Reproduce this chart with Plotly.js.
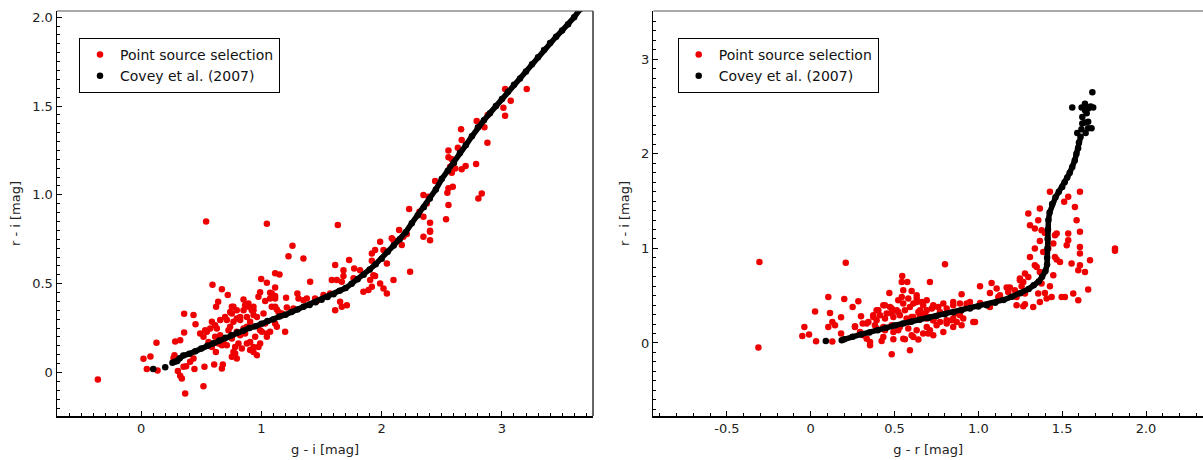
<!DOCTYPE html>
<html>
<head>
<meta charset="utf-8">
<script src="https://cdn.plot.ly/plotly-3.0.1.min.js"></script>
<style>html,body{margin:0;padding:0;background:#fff;}#chart{width:1203px;height:460px;}</style>
</head>
<body>
<div id="chart"></div>
<script>
// ---- Data ----
const seriesNames = ['Point source selection', 'Covey et al. (2007)'];

// Left panel: point sources, [g - i, r - i]
const pointsGI_RI = [
[0.54,0.85],[1.045,0.837],[1.635,0.83],[-0.36,-0.04],[1.258,0.713],[1.225,0.655],[1.349,0.642],[1.114,0.558],[1.15,0.552],[0.998,0.526],
[1.045,0.505],[0.593,0.494],[0.671,0.468],[0.72,0.436],[0.64,0.398],[0.623,0.37],[0.851,0.411],[0.892,0.389],[0.934,0.37],[0.975,0.426],
[0.989,0.452],[0.357,0.33],[0.435,0.323],[0.452,0.271],[0.127,0.167],[0.283,0.175],[0.324,0.182],[0.357,0.225],[0.019,0.077],[0.077,0.09],
[0.047,0.019],[0.136,0.011],[0.277,0.097],[0.305,0.009],[0.324,-0.019],[0.366,-0.118],[0.518,-0.077],[0.443,0.019],[0.526,0.032],[0.607,0.045],
[0.679,0.045],[0.671,0.023],[0.374,0.035],[0.407,0.06],[0.435,0.079],[0.588,0.144],[0.621,0.116],[0.56,0.172],[0.518,0.201],[0.546,0.229],
[0.588,0.285],[0.629,0.248],[0.712,0.295],[0.754,0.332],[0.795,0.351],[0.767,0.37],[0.823,0.313],[0.74,0.257],[0.795,0.229],[0.851,0.248],
[0.879,0.313],[0.934,0.351],[0.906,0.285],[0.962,0.313],[1.017,0.332],[1.031,0.276],[1.003,0.229],[1.045,0.22],[0.989,0.163],[0.934,0.144],
[0.879,0.163],[0.837,0.135],[0.781,0.107],[0.795,0.079],[0.712,0.154],[0.754,0.192],[0.684,0.182],[0.657,0.21],[0.934,0.116],[0.962,0.097],
[1.072,0.449],[1.114,0.43],[1.205,0.421],[1.299,0.445],[1.405,0.511],[1.46,0.402],[1.516,0.436],[1.031,0.402],[1.086,0.37],[1.128,0.355],
[1.17,0.332],[1.211,0.366],[1.266,0.36],[1.349,0.407],[1.377,0.417],[0.989,0.238],[1.045,0.201],[1.072,0.229],[1.128,0.257],[1.197,0.229],
[1.114,0.276],[1.613,0.605],[1.627,0.52],[1.682,0.576],[1.729,0.633],[1.771,0.586],[1.82,0.576],[1.904,0.52],[1.918,0.67],[1.987,0.736],
[2.015,0.689],[2.043,0.614],[1.848,0.454],[1.89,0.464],[1.931,0.548],[1.987,0.501],[2.015,0.473],[2.043,0.445],[2.098,0.52],[2.084,0.755],
[2.167,0.717],[2.18,0.764],[2.236,0.567],[2.347,0.764],[2.402,0.745],[2.402,0.792],[0.269,0.082],[0.352,0.032],[0.338,-0.034],[0.49,0.22],
[0.532,0.238],[0.574,0.248],[0.615,0.201],[0.643,0.163],[0.671,0.154],[0.726,0.238],[0.767,0.285],[0.74,0.341],[0.754,0.37],[0.795,0.304],
[0.851,0.351],[0.864,0.379],[0.892,0.37],[0.92,0.351],[0.934,0.323],[0.879,0.257],[0.864,0.22],[0.823,0.21],[0.809,0.163],[0.781,0.144],
[0.767,0.116],[0.754,0.088],[0.906,0.172],[0.948,0.201],[0.975,0.144],[0.906,0.126],[0.823,0.295],[0.698,0.313],[0.657,0.295],[0.615,0.266],
[2.444,1.078],[2.347,0.999],[2.389,0.989],[2.375,0.952],[2.228,0.92],[2.314,0.905],[2.347,0.877],[2.402,0.843],[2.402,0.798],[2.145,0.802],
[2.098,0.745],[1.945,0.689],[1.918,0.629],[1.945,0.543],[1.918,0.482],[1.585,0.52],[1.668,0.511],[1.682,0.543],[1.766,0.53],[1.114,0.479],
[1.086,0.445],[1.072,0.417],[1.114,0.417],[1.308,0.417],[1.446,0.417],[1.571,0.445],[1.114,0.37],[1.142,0.341],[1.654,0.398],[1.71,0.379],
[1.613,0.351],[1.668,0.37],[3.026,1.596],[3.206,1.596],[3.073,1.53],[3.012,1.491],[3.026,1.446],[2.882,1.45],[2.79,1.416],[2.854,1.38],
[2.66,1.369],[2.665,1.309],[2.879,1.294],[2.555,1.249],[2.633,1.265],[2.555,1.211],[2.583,1.2],[2.569,1.158],[2.611,1.149],[2.583,1.125],
[2.665,1.144],[2.698,1.162],[2.785,1.174],[2.555,1.037],[2.591,1.046],[2.546,1.012],[2.555,0.943],[2.832,1.008],[2.804,0.98],[2.535,0.862],
[2.209,0.779]
];

// Left panel: Covey et al. (2007) locus, [g - i, r - i]
const coveyGI_RI = [
[0.10,0.02],[0.20,0.03],[0.26,0.055],[0.28,0.06],[0.30,0.065],[0.32,0.08],[0.35,0.095],[0.40,0.105],[0.45,0.12],[0.50,0.135],
[0.55,0.15],[0.60,0.165],[0.65,0.18],[0.70,0.195],[0.75,0.21],[0.80,0.225],[0.85,0.235],[0.90,0.25],[0.95,0.26],[1.00,0.275],
[1.05,0.29],[1.10,0.30],[1.15,0.315],[1.20,0.325],[1.25,0.34],[1.30,0.355],[1.35,0.37],[1.40,0.38],[1.45,0.395],[1.50,0.41],
[1.55,0.425],[1.60,0.44],[1.65,0.46],[1.70,0.475],[1.75,0.50],[1.80,0.525],[1.85,0.55],[1.90,0.58],[1.95,0.61],[2.00,0.64],
[2.05,0.68],[2.10,0.715],[2.15,0.75],[2.20,0.79],[2.25,0.84],[2.30,0.885],[2.35,0.93],[2.40,0.98],[2.45,1.03],[2.50,1.09],
[2.55,1.135],[2.60,1.18],[2.65,1.235],[2.70,1.28],[2.75,1.33],[2.80,1.38],[2.85,1.42],[2.90,1.46],[2.95,1.50],[3.00,1.54],
[3.05,1.58],[3.10,1.62],[3.15,1.655],[3.20,1.695],[3.25,1.735],[3.30,1.775],[3.35,1.815],[3.40,1.855],[3.45,1.89],[3.50,1.925],
[3.55,1.96],[3.60,2.00],[3.65,2.045]
];

// Right panel: point sources, [g - r, r - i]
const pointsGR_RI = [
[-0.306,0.857],[-0.312,-0.049],[0.209,0.847],[0.105,0.487],[0.2,0.466],[0.25,0.381],[0.284,0.441],[0.026,0.332],[0.115,0.317],[0.181,0.272],
[0.129,0.222],[0.105,0.169],[0.145,0.187],[-0.038,0.169],[-0.01,0.089],[-0.05,0.074],[0.032,0.018],[0.129,0.015],[0.181,0.099],[0.3,0.283],
[0.264,0.177],[0.546,0.709],[0.576,0.646],[0.469,0.529],[0.552,0.558],[0.602,0.55],[0.711,0.646],[0.31,0.205],[0.344,0.222],[0.373,0.293],
[0.403,0.346],[0.393,0.24],[0.443,0.399],[0.483,0.364],[0.522,0.452],[0.543,0.487],[0.582,0.47],[0.612,0.417],[0.632,0.47],[0.662,0.434],
[0.692,0.452],[0.722,0.364],[0.443,0.258],[0.483,0.311],[0.522,0.328],[0.562,0.346],[0.602,0.275],[0.642,0.328],[0.682,0.311],[0.711,0.275],
[0.731,0.24],[0.304,0.099],[0.334,0.046],[0.354,-0.024],[0.423,0.021],[0.493,0.039],[0.562,0.039],[0.602,0.081],[0.642,0.036],[0.592,-0.077],
[0.483,-0.12],[0.701,0.099],[0.711,0.134],[0.393,0.152],[0.443,0.134],[0.522,0.134],[0.543,0.646],[0.632,0.505],[0.652,0.346],[0.731,0.399],
[0.761,0.381],[0.791,0.417],[0.85,0.434],[0.9,0.515],[0.86,0.311],[0.841,0.24],[0.811,0.222],[0.9,0.187],[0.93,0.417],[0.95,0.434],
[0.98,0.222],[1.01,0.6],[1.069,0.529],[1.079,0.635],[1.109,0.576],[1.129,0.505],[1.169,0.586],[1.188,0.586],[1.218,0.558],[1.228,0.399],
[1.268,0.388],[1.248,0.663],[1.278,0.734],[1.298,0.698],[1.327,0.381],[1.308,0.91],[1.298,1.369],[1.308,1.245],[1.337,1.211],[1.337,0.999],
[1.357,1.298],[1.367,1.422],[1.348,0.804],[1.367,0.751],[1.387,0.963],[1.417,0.999],[1.357,0.523],[1.397,0.529],[1.427,1.598],[1.606,1.598],
[1.536,1.545],[1.512,1.492],[1.427,0.6],[1.437,0.487],[1.447,0.716],[1.457,0.91],[1.487,0.857],[1.467,1.158],[1.497,0.487],[1.516,0.487],
[1.527,1.034],[1.536,1.087],[1.566,0.523],[1.576,1.439],[1.586,1.298],[1.596,0.769],[1.556,0.84],[1.606,1.016],[1.606,1.175],[1.636,0.751],
[1.655,0.565],[1.666,0.875],[1.596,0.452],[1.815,0.999],[1.815,0.974],[0.801,0.833],[1.119,0.487],[1.178,0.54],[1.258,0.6],[1.248,0.681],
[1.268,0.646],[1.278,0.523],[1.228,0.487],[1.278,0.41],[1.367,0.434],[1.377,0.628],[1.407,0.47],[1.337,0.822],[1.367,1.079],[1.377,1.192],
[1.397,1.164],[1.457,1.14],[1.447,1.052],[1.467,0.882],[1.536,1.158],[1.606,0.946],[1.606,0.822],[1.01,0.423],[0.97,0.222],[1.069,0.381],
[0.393,0.346],[0.433,0.399],[0.473,0.381],[0.513,0.346],[0.552,0.417],[0.592,0.381],[0.632,0.434],[0.671,0.399],[0.692,0.346],[0.731,0.381],
[0.771,0.328],[0.811,0.364],[0.85,0.399],[0.89,0.417],[0.93,0.381],[0.373,0.275],[0.413,0.293],[0.453,0.311],[0.493,0.275],[0.532,0.293],
[0.572,0.258],[0.612,0.275],[0.652,0.293],[0.692,0.258],[0.731,0.24],[0.771,0.222],[0.811,0.24],[0.85,0.258],[0.89,0.293],[0.334,0.205],
[0.383,0.187],[0.433,0.169],[0.483,0.187],[0.532,0.169],[0.582,0.152],[0.632,0.134],[0.692,0.169],[0.751,0.187],[0.811,0.205],[0.871,0.222],
[0.91,0.258],[0.314,0.081],[0.354,0.011],[0.433,0.063],[0.493,0.116],[0.552,0.046],[0.612,0.063],[0.671,0.099],[0.731,0.081],[0.791,0.116],
[0.85,0.169],[0.294,0.116],[0.264,0.169]
];

// Right panel: Covey et al. (2007) locus, [g - r, r - i]
const coveyGR_RI = [
[0.09,0.02],[0.185,0.03],[0.20,0.04],[0.25,0.065],[0.30,0.09],[0.35,0.11],[0.40,0.135],[0.45,0.16],[0.50,0.185],[0.55,0.205],
[0.60,0.225],[0.65,0.245],[0.70,0.265],[0.75,0.285],[0.80,0.305],[0.85,0.325],[0.90,0.345],[0.95,0.365],[1.00,0.385],[1.05,0.40],
[1.10,0.425],[1.15,0.455],[1.20,0.49],[1.25,0.525],[1.30,0.57],[1.33,0.61],[1.36,0.65],[1.38,0.70],[1.40,0.76],[1.41,0.83],
[1.41,0.90],[1.412,1.0],[1.413,1.1],[1.415,1.2],[1.418,1.3],[1.425,1.38],[1.44,1.47],[1.46,1.54],[1.48,1.60],[1.50,1.65],
[1.515,1.70],[1.53,1.75],[1.545,1.80],[1.56,1.86],[1.575,1.93],[1.585,2.0],[1.595,2.06],[1.60,2.12],[1.61,2.18],
[1.59,2.22],[1.615,2.26],[1.64,2.22],[1.655,2.27],[1.675,2.27],[1.62,2.32],[1.636,2.33],[1.655,2.34],[1.62,2.39],[1.646,2.43],
[1.636,2.46],[1.56,2.49],[1.616,2.49],[1.636,2.53],[1.655,2.48],[1.67,2.50],[1.685,2.49],[1.68,2.65]
];

// Tick spacing and label text
const leftXTickStep = 1, leftXMinor = 0.1;
const leftYTickStep = 0.5, leftYMinor = 0.05;
const rightXTickStep = 0.5, rightXMinor = 0.1;
const rightYTickStep = 1, rightYMinor = 0.1;
const tickLabelAlias = {'0.0':'0', '\u22120.5':'-0.5', '\u22120.0':'0'};
const axisTitles = {left: ['g - i [mag]', 'r - i [mag]'], right: ['g - r [mag]', 'r - i [mag]']};

// ---- Build ----
const xs = a => a.map(p => p[0]);
const ys = a => a.map(p => p[1]);
const RED = 'rgb(238,0,0)';
const BLACK = '#000';
const MS = 6.5;

const leftLine = coveyGI_RI.slice(2);
const rightLine = coveyGR_RI.slice(1, 49);

const traces = [
  {type:'scatter', mode:'markers', name:seriesNames[0], x:xs(pointsGI_RI), y:ys(pointsGI_RI),
   xaxis:'x', yaxis:'y', legend:'legend', marker:{color:RED, size:MS}},
  {type:'scatter', mode:'lines', showlegend:false, x:xs(leftLine), y:ys(leftLine),
   xaxis:'x', yaxis:'y', line:{color:BLACK, width:5.5}, hoverinfo:'skip'},
  {type:'scatter', mode:'markers', name:seriesNames[1], x:xs(coveyGI_RI), y:ys(coveyGI_RI),
   xaxis:'x', yaxis:'y', legend:'legend', marker:{color:BLACK, size:MS}},

  {type:'scatter', mode:'markers', name:seriesNames[0], x:xs(pointsGR_RI), y:ys(pointsGR_RI),
   xaxis:'x2', yaxis:'y2', legend:'legend2', marker:{color:RED, size:MS}},
  {type:'scatter', mode:'lines', showlegend:false, x:xs(rightLine), y:ys(rightLine),
   xaxis:'x2', yaxis:'y2', line:{color:BLACK, width:5.5}, hoverinfo:'skip'},
  {type:'scatter', mode:'markers', name:seriesNames[1], x:xs(coveyGR_RI), y:ys(coveyGR_RI),
   xaxis:'x2', yaxis:'y2', legend:'legend2', marker:{color:BLACK, size:MS}}
];

function axis(range, dtick, minorStep, fmt, titleText, standoff, extra){
  return Object.assign({
    range:range, tickmode:'linear', tick0:0, dtick:dtick, tickformat:fmt, labelalias:tickLabelAlias,
    showline:true, linecolor:'#000', linewidth:1.5, mirror:false,
    ticks:'inside', ticklen:5, tickwidth:1, tickcolor:'#000',
    showgrid:false, zeroline:false,
    tickfont:{size:13, color:'#222'},
    minor:{ticks:'inside', ticklen:3, tickwidth:1, tickcolor:'#000', showgrid:false, tickmode:'linear', tick0:0, dtick:minorStep},
    title:{text:titleText, font:{size:13, color:'#222'}, standoff:standoff}
  }, extra);
}

const W = 1203, H = 460, ML = 57, MR = 0, MT = 11, MB = 44;
const PW = W - ML - MR, PH = H - MT - MB;
const px = v => (v - ML) / PW;
const py = v => (H - MB - v) / PH;

const legendStyle = {xanchor:'left', yanchor:'top', bgcolor:'#fff',
  bordercolor:'#000', borderwidth:1, font:{size:14, color:'#111'}, tracegroupgap:0, itemsizing:'trace'};

const layout = {
  width:W, height:H,
  margin:{l:ML, r:MR, t:MT, b:MB, pad:0},
  paper_bgcolor:'#fff', plot_bgcolor:'#fff',
  font:{family:'DejaVu Sans, sans-serif', size:13, color:'#222'},
  showlegend:true,
  xaxis: axis([-0.70, 3.757], leftXTickStep, leftXMinor, 'd', axisTitles.left[0], 10,
    {domain:[0, px(593)], anchor:'y'}),
  yaxis: axis([-0.245, 2.035], leftYTickStep, leftYMinor, '.1f', axisTitles.left[1], 8,
    {domain:[0,1], anchor:'x'}),
  xaxis2: axis([-0.939, 2.34], rightXTickStep, rightXMinor, '.1f', axisTitles.right[0], 10,
    {domain:[px(653.3), 1], anchor:'y2'}),
  yaxis2: axis([-0.772, 3.51], rightYTickStep, rightYMinor, 'd', axisTitles.right[1], 8,
    {domain:[0,1], anchor:'x2'}),
  legend: Object.assign({x:px(79), y:py(38)}, legendStyle),
  legend2: Object.assign({x:px(677.7), y:py(38)}, legendStyle),
  shapes:[
    {type:'line', xref:'x domain', yref:'y domain', x0:0, x1:1, y0:1, y1:1, line:{color:'#555', width:1}},
    {type:'line', xref:'x domain', yref:'y domain', x0:1, x1:1, y0:0, y1:1, line:{color:'#333', width:1.5}},
    {type:'line', xref:'x2 domain', yref:'y2 domain', x0:0, x1:1, y0:1, y1:1, line:{color:'#555', width:1}}
  ]
};

Plotly.newPlot('chart', traces, layout, {staticPlot:true, displayModeBar:false});
</script>
</body>
</html>
